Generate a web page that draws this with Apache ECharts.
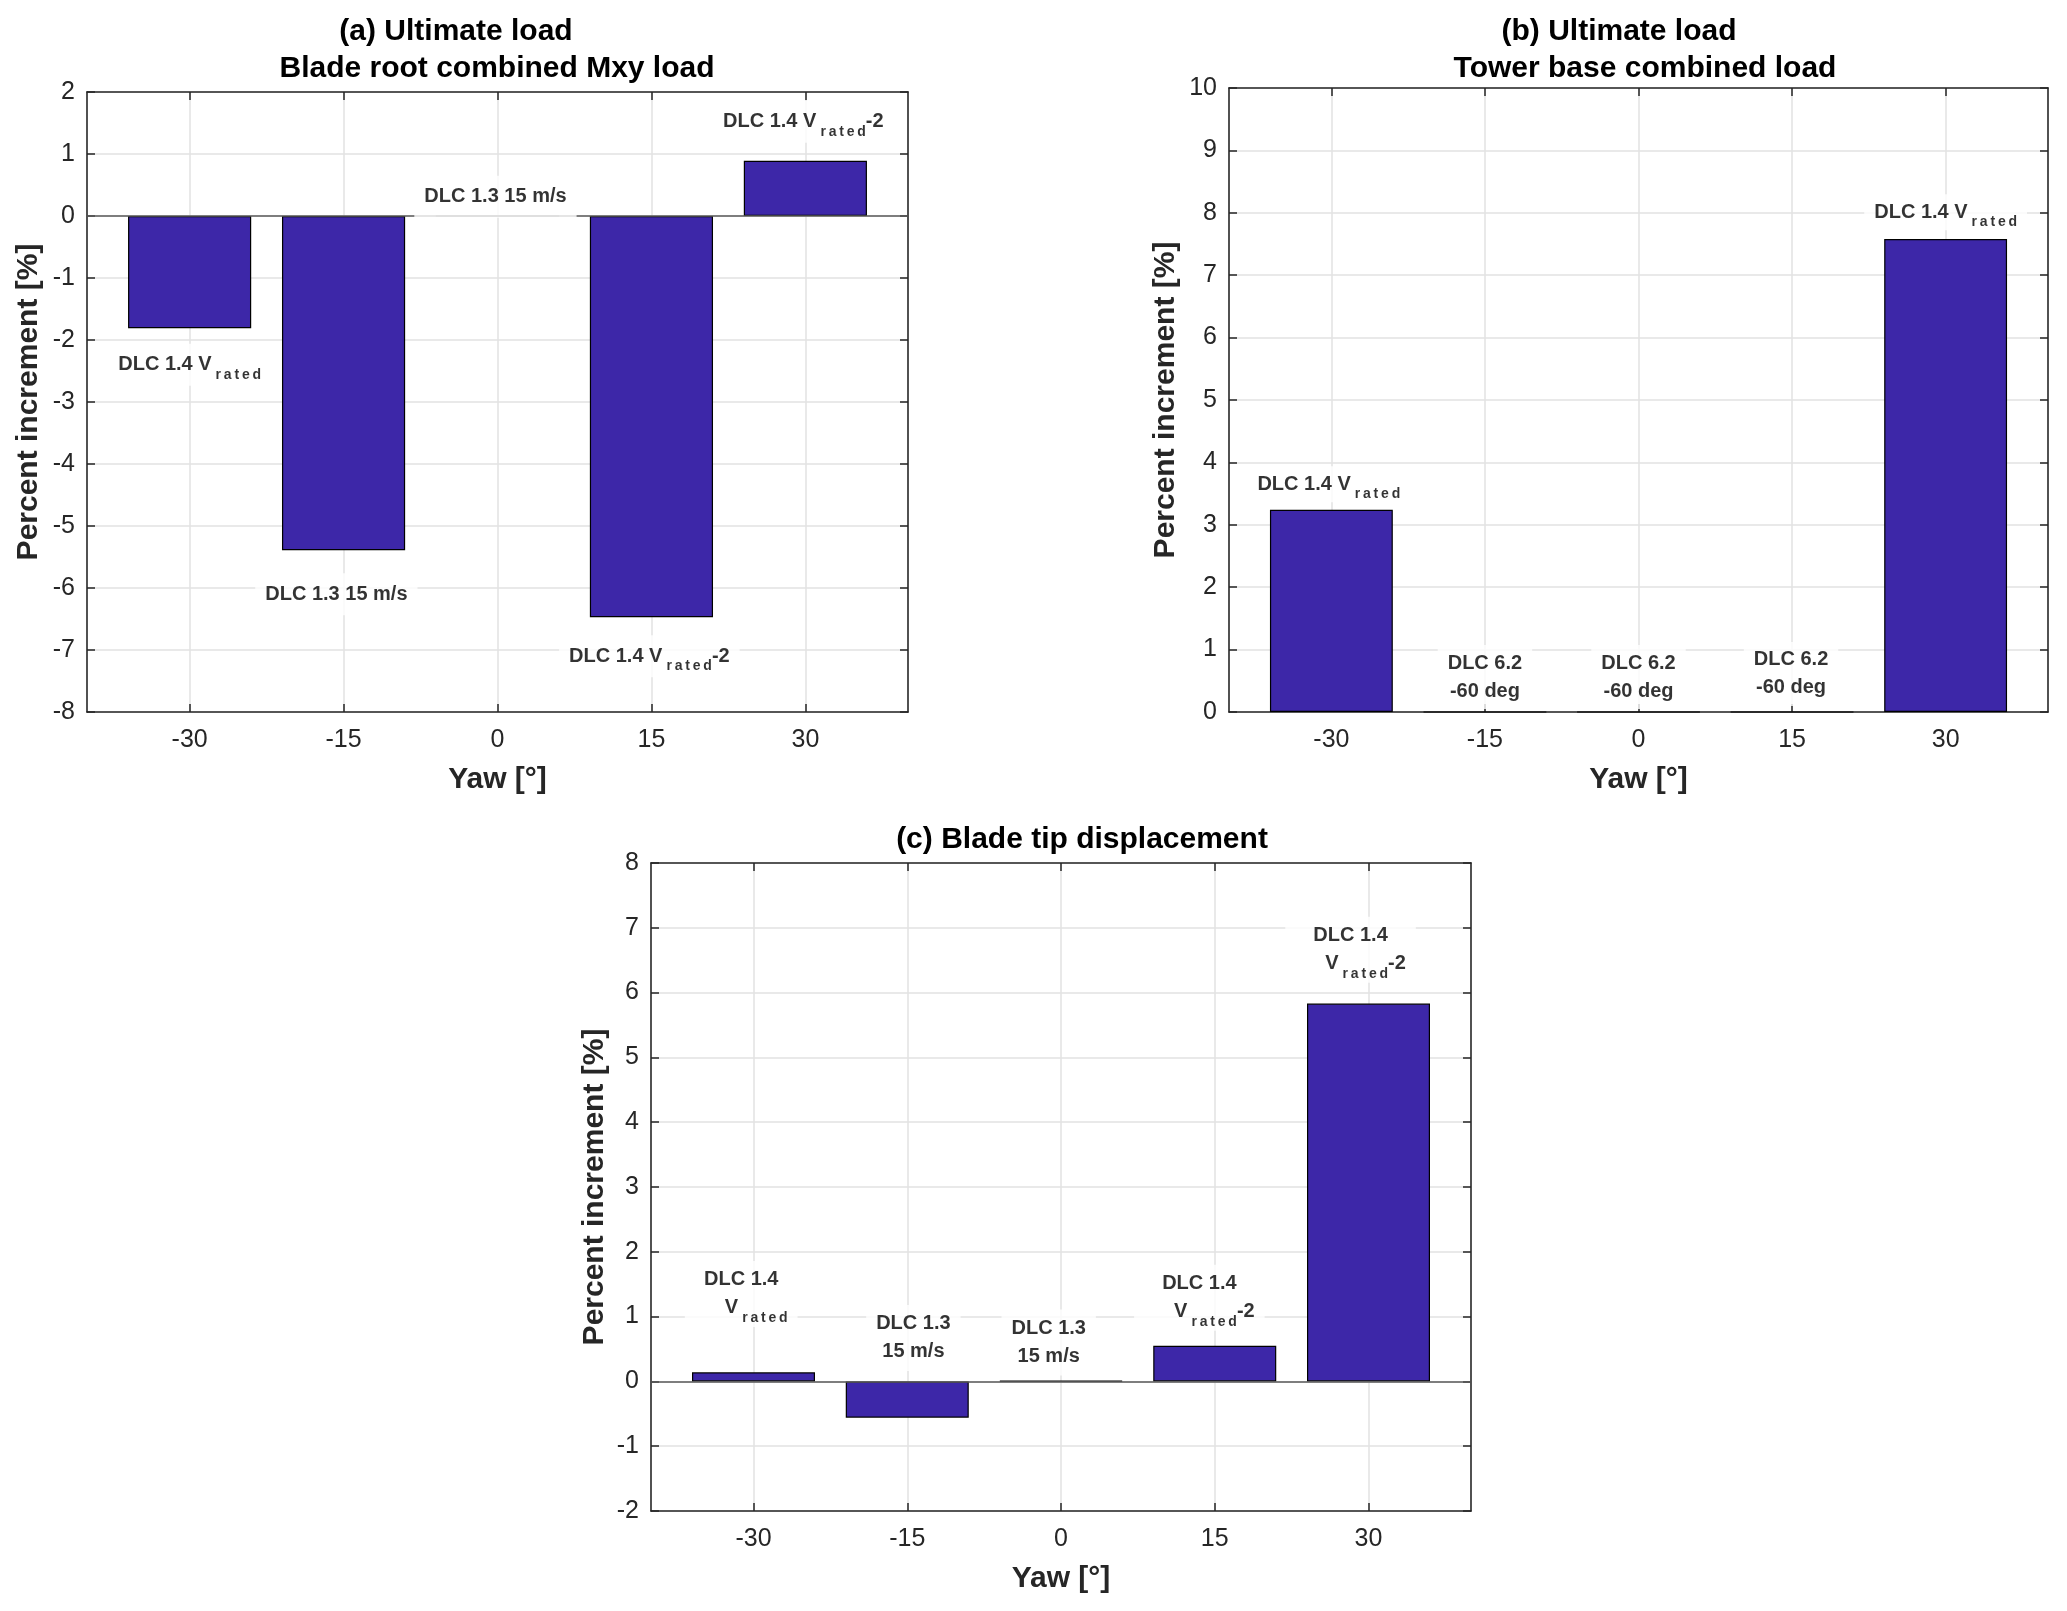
<!DOCTYPE html>
<html>
<head>
<meta charset="utf-8">
<script src="https://cdn.jsdelivr.net/npm/echarts@6/dist/echarts.min.js"></script>
<style>
html,body{margin:0;padding:0;background:#fff;}
#chart{width:2067px;height:1611px;}
</style>
</head>
<body>
<div id="chart"></div>
<script>
// ---------- data ----------
const yaw = [-30, -15, 0, 15, 30];
const yawTicks = [-30, -15, 0, 15, 30];

const bladeRootMxy = [-1.81, -5.39, 0, -6.47, 0.89];   // (a)
const towerBase    = [3.24, 0, 0, 0, 7.58];            // (b)
const bladeTip     = [0.14, -0.56, 0.01, 0.55, 5.83];  // (c)

const labelsA = ['DLC 1.4 V_rated', 'DLC 1.3 15 m/s', 'DLC 1.3 15 m/s', 'DLC 1.4 V_rated-2', 'DLC 1.4 V_rated-2'];
const labelXA = [-30, -15.7, -0.2, 14.8, 29.8];
const labelYA = [-2.40, -6.10, 0.31, -7.10, 1.52];

const labelsB = ['DLC 1.4 V_rated', 'DLC 6.2\n-60 deg', 'DLC 6.2\n-60 deg', 'DLC 6.2\n-60 deg', 'DLC 1.4 V_rated'];
const labelXB = [-30.25, -15, 0, 14.9, 30];
const labelYB = [3.65, 0.56, 0.56, 0.61, 8.01];

const labelsC = ['DLC 1.4\nV_rated', 'DLC 1.3\n15 m/s', 'DLC 1.3\n15 m/s', 'DLC 1.4\nV_rated-2', 'DLC 1.4\nV_rated-2'];
const labelXC = [-31.2, -14.4, -1.2, 13.5, 28.25];
const labelYC = [1.35, 0.67, 0.60, 1.29, 6.66];

const titleA = ['(a) Ultimate load', 'Blade root combined Mxy load'];
const titleB = ['(b) Ultimate load', 'Tower base combined load'];
const titleC = ['(c) Blade tip displacement'];
const xName = 'Yaw [°]';
const yName = 'Percent increment [%]';

// ---------- styling / layout ----------
const FONT = '"Liberation Sans", Arial, Helvetica, sans-serif';
const AX = '#262626';
const GRIDC = '#e2e2e2';
const BAR = '#3D27A8';
const SUB = 'r\u2009a\u2009t\u2009e\u2009d';

const panels = [
  {grid: {left: 87, top: 92, width: 821, height: 620}, ymin: -8, ymax: 2, values: bladeRootMxy,
   labels: labelsA, lx: labelXA, ly: labelYA, nameGapY: 43, pad: [7, 10], baseline: true},
  {grid: {left: 1229, top: 88, width: 819, height: 624}, ymin: 0, ymax: 10, values: towerBase,
   labels: labelsB, lx: labelXB, ly: labelYB, nameGapY: 48, pad: [4, 10], baseline: false},
  {grid: {left: 651, top: 863, width: 820, height: 648}, ymin: -2, ymax: 8, values: bladeTip,
   labels: labelsC, lx: labelXC, ly: labelYC, nameGapY: 41, pad: [5, 10], baseline: true}
];

function toRich(txt) {
  return txt.split('\n').map(function (line, li) {
    const parts = line.split('_rated');
    if (parts.length === 1) return '{b|' + line + '}';
    let r = '';
    if (parts[0]) r += '{' + (li > 0 ? 'bi' : 'b') + '|' + parts[0] + '}';
    r += '{s|' + SUB + '}';
    if (parts[1]) r += '{b|' + parts[1] + '}';
    return r;
  }).join('\n');
}

const grids = [], xAxes = [], yAxes = [], series = [];
panels.forEach(function (p, i) {
  grids.push(Object.assign({containLabel: false}, p.grid));
  xAxes.push({
    type: 'value', gridIndex: i, min: -40, max: 40, position: 'bottom',
    name: xName, nameLocation: 'middle', nameGap: 53,
    nameTextStyle: {fontFamily: FONT, fontWeight: 'bold', fontSize: 30, color: AX},
    axisLine: {show: true, onZero: false, lineStyle: {color: AX, width: 1.6}},
    axisTick: {show: true, inside: true, length: 8, customValues: yawTicks, lineStyle: {color: AX, width: 1.5}},
    axisLabel: {show: true, customValues: yawTicks, margin: 16, fontFamily: FONT, fontSize: 25, color: AX},
    splitLine: {show: true, lineStyle: {color: GRIDC, width: 1.5}}
  });
  xAxes.push({
    type: 'value', gridIndex: i, min: -40, max: 40, position: 'top',
    axisLine: {show: true, onZero: false, lineStyle: {color: AX, width: 1.6}},
    axisTick: {show: true, inside: true, length: 8, customValues: yawTicks, lineStyle: {color: AX, width: 1.5}},
    axisLabel: {show: false}, splitLine: {show: false}
  });
  yAxes.push({
    type: 'value', gridIndex: i, min: p.ymin, max: p.ymax, interval: 1, position: 'left',
    name: yName, nameLocation: 'middle', nameGap: p.nameGapY,
    nameTextStyle: {fontFamily: FONT, fontWeight: 'bold', fontSize: 30, color: AX},
    axisLine: {show: true, onZero: false, lineStyle: {color: AX, width: 1.6}},
    axisTick: {show: true, inside: true, length: 8, lineStyle: {color: AX, width: 1.5}},
    axisLabel: {show: true, margin: 12, fontFamily: FONT, fontSize: 25, color: AX},
    splitLine: {show: true, lineStyle: {color: GRIDC, width: 1.5}}
  });
  yAxes.push({
    type: 'value', gridIndex: i, min: p.ymin, max: p.ymax, interval: 1, position: 'right',
    axisLine: {show: true, onZero: false, lineStyle: {color: AX, width: 1.6}},
    axisTick: {show: true, inside: true, length: 8, lineStyle: {color: AX, width: 1.5}},
    axisLabel: {show: false}, splitLine: {show: false}
  });

  const barW = 0.8 * 15 / 80 * p.grid.width;
  const bar = {
    type: 'bar', xAxisIndex: 2 * i, yAxisIndex: 2 * i, z: 2,
    barWidth: barW,
    data: yaw.map(function (x, k) { return [x, p.values[k]]; }),
    itemStyle: {color: BAR, borderColor: '#000', borderWidth: 1.2},
    silent: true, animation: false
  };
  if (p.baseline) {
    bar.markLine = {
      silent: true, symbol: 'none', animation: false,
      label: {show: false},
      lineStyle: {color: '#5a5a5a', width: 1.6, type: 'solid'},
      data: [{yAxis: 0}]
    };
  }
  series.push(bar);

  series.push({
    type: 'scatter', xAxisIndex: 2 * i, yAxisIndex: 2 * i, z: 5,
    symbolSize: 0, silent: true, animation: false,
    data: p.labels.map(function (t, k) { return [p.lx[k], p.ly[k], t]; }),
    label: {
      show: true, position: 'inside',
      formatter: function (prm) { return toRich(prm.data[2]); },
      backgroundColor: '#fff', padding: p.pad,
      rich: {
        b: {fontFamily: FONT, fontWeight: 'bold', fontSize: 20, lineHeight: 28, color: '#000'},
        bi: {fontFamily: FONT, fontWeight: 'bold', fontSize: 20, lineHeight: 28, color: '#000', padding: [0, 0, 0, 30]},
        s: {fontFamily: FONT, fontWeight: 'bold', fontSize: 14, lineHeight: 14, color: '#000', padding: [20, 0, 0, 4]}
      }
    }
  });
});

function titleText(text, x, y) {
  return {
    type: 'text', x: x, y: y, silent: true,
    style: {text: text, fill: '#000', font: 'bold 30px ' + FONT, align: 'center', verticalAlign: 'middle',
            textAlign: 'center', textVerticalAlign: 'middle'}
  };
}

const graphics = [
  titleText(titleA[0], 456, 32), titleText(titleA[1], 497, 69),
  titleText(titleB[0], 1619, 32), titleText(titleB[1], 1645, 69),
  titleText(titleC[0], 1082, 840)
];

const chart = echarts.init(document.getElementById('chart'), null, {renderer: 'canvas'});
chart.setOption({
  backgroundColor: '#fff',
  animation: false,
  grid: grids,
  xAxis: xAxes,
  yAxis: yAxes,
  series: series,
  graphic: graphics
});
</script>
</body>
</html>
